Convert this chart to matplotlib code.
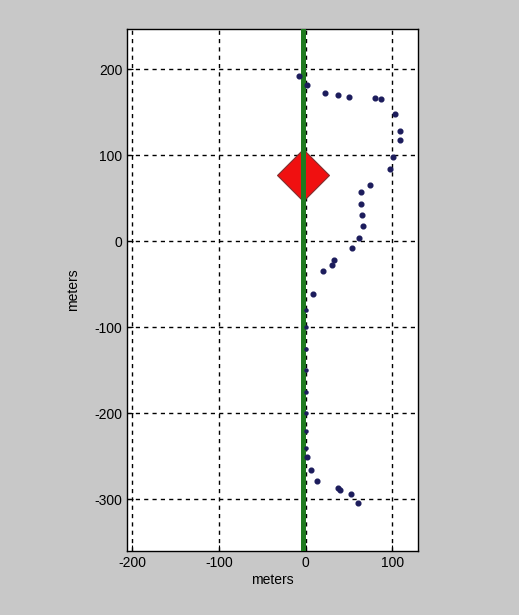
import matplotlib
matplotlib.use("Agg")
import matplotlib.pyplot as plt

# track points (meters)
track_x = [-8, 1, 22, 37, 50, 80, 87, 103, 109, 109, 101, 97,
           74, 64, 64, 65, 66, 62, 53, 33, 30, 20, 8,
           1, 6, 13, 37, 40, 52, 60]
track_y = [192, 182, 172, 170, 168, 167, 165, 148, 128, 118, 98, 84,
           66, 57, 43, 31, 18, 4, -8, -22, -27, -35, -61,
           -251, -266, -278, -287, -289, -294, -304]

# points hidden along the x=0 grid line
hidden_x = [0, 0, 0, 0, 0, 0, 0, 0]
hidden_y = [-80, -100, -125, -150, -175, -200, -220, -240]

# reference line and marker
line_x = -3.5
target_x, target_y = -3, 77

x_ticks = [-200, -100, 0, 100]
y_ticks = [-300, -200, -100, 0, 100, 200]

plt.rcParams['font.family'] = ['Liberation Sans', 'DejaVu Sans']
plt.rcParams['axes.unicode_minus'] = False

fig = plt.figure(figsize=(5.19, 6.15), dpi=100, facecolor='#c8c8c8')
ax = fig.add_axes([0.245, 0.104, 0.561, 0.849])
ax.set_facecolor('white')

ax.plot(target_x, target_y, marker='D', markersize=26, color='#f01010',
        markeredgecolor='#803030', markeredgewidth=0.8, zorder=3)
ax.axvline(line_x, color='#1f7a1f', linewidth=3.6, zorder=4)
ax.plot(hidden_x, hidden_y, linestyle='none', marker='o', markersize=2.2,
        color='#1c1c5c', zorder=4.2)
ax.plot(track_x, track_y, linestyle='none', marker='o', markersize=3.4,
        color='#1c1c5c', zorder=5)

ax.set_xlim(-206, 130)
ax.set_ylim(-360, 247)
ax.set_xticks(x_ticks)
ax.set_yticks(y_ticks)
ax.grid(True, color='black', linestyle=(0, (3, 3)), linewidth=1.0)
for line in ax.get_xgridlines() + ax.get_ygridlines():
    line.set_zorder(4.5)

ax.tick_params(direction='in', length=4, labelsize=10, colors='black')
for s in ax.spines.values():
    s.set_color('black')
    s.set_linewidth(1.0)

ax.set_xlabel('meters', fontsize=10, labelpad=2)
ax.set_ylabel('meters', fontsize=10, labelpad=10)

fig.savefig('out.png', dpi=100, facecolor=fig.get_facecolor())
